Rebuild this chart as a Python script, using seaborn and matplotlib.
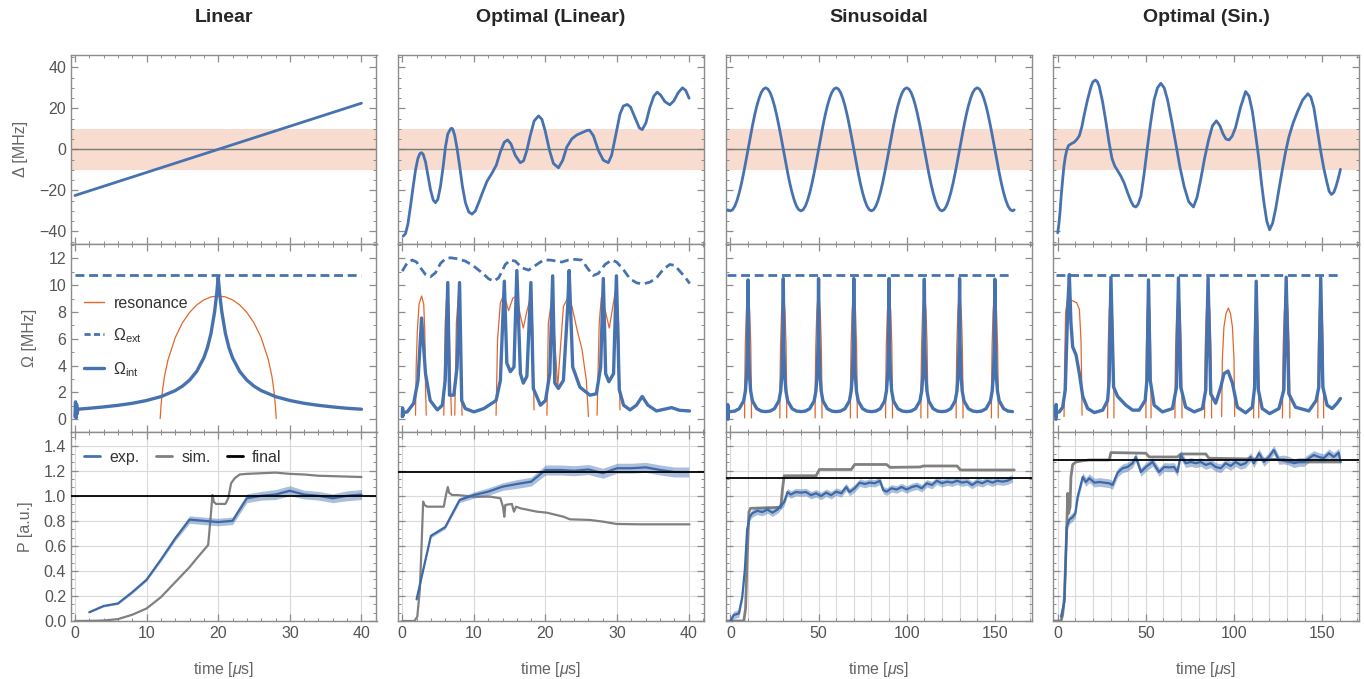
import numpy as np
import matplotlib
matplotlib.use('Agg')
import matplotlib.pyplot as plt
from matplotlib.ticker import MultipleLocator, FormatStrFormatter
from matplotlib.lines import Line2D
import seaborn as sns

sns.set_style('ticks')
plt.rcParams['font.family'] = ['Liberation Sans', 'DejaVu Sans']
plt.rcParams['mathtext.fontset'] = 'custom'
plt.rcParams['mathtext.rm'] = 'Liberation Sans'
plt.rcParams['mathtext.it'] = 'Liberation Sans:italic'
plt.rcParams['mathtext.bf'] = 'Liberation Sans:bold'

BLUE = '#4672b0'
ORANGE = '#e3672a'
BAND = '#f8dccf'
GRAY = '#808080'
FRAME = '#8c8c8c'

titles = ['Linear', 'Optimal (Linear)', 'Sinusoidal', 'Optimal (Sin.)']

# ---------------- Linear ----------------
lin_delta_t = [0, 40]
lin_delta = [-22.5, 22.5]
lin_ext_t = [0, 40]
lin_ext = [10.8, 10.8]
lin_int_t = [0, 0.08, 0.16, 0.24, 0.32, 0.4, 2, 4, 6, 8, 10, 12, 14, 15, 16, 17, 18, 18.5, 19, 19.5,
             19.8, 20, 20.2, 20.5, 21, 21.5, 22, 23, 24, 25, 26, 28, 30, 32, 34, 36, 38, 40]
lin_int = [0.2, 1.3, 0.1, 1.1, 0.4, 0.75, 0.82, 0.92, 1.04, 1.19, 1.40, 1.69, 2.14, 2.47, 2.92, 3.57, 4.59,
           5.35, 6.42, 8.03, 9.4, 10.6, 9.4, 8.03, 6.42, 5.35, 4.59, 3.57, 2.92, 2.47, 2.14, 1.69, 1.40,
           1.19, 1.04, 0.92, 0.82, 0.75]
lin_res = [([11.9, 12.0, 12.2, 12.5, 13, 14, 15, 16, 17, 18, 19, 20, 21, 22, 23, 24, 25, 26, 27, 27.5, 27.8, 28.0, 28.1],
            [0.05, 0.9, 2.05, 3.2, 4.45, 6.09, 7.19, 7.97, 8.53, 8.91, 9.13, 9.2, 9.13, 8.91, 8.53, 7.97, 7.19,
             6.09, 4.45, 3.2, 2.05, 0.9, 0.05])]
lin_exp_t = [2, 4, 6, 8, 10, 12, 14, 16, 18, 20, 22, 24, 26, 28, 30, 32, 34, 36, 38, 40]
lin_exp = [0.07, 0.12, 0.14, 0.23, 0.33, 0.49, 0.66, 0.81, 0.80, 0.79, 0.80, 0.98, 1.00, 1.01, 1.04, 1.01,
           1.00, 0.98, 1.00, 1.01]
lin_err = [0.005, 0.007, 0.008, 0.01, 0.012, 0.015, 0.02, 0.03, 0.03, 0.03, 0.03, 0.035, 0.035, 0.04, 0.04,
           0.035, 0.035, 0.035, 0.04, 0.04]
lin_sim_t = [0, 2, 4, 6, 8, 10, 12, 14, 15, 16, 17, 18, 18.6, 18.9, 19.2, 19.4, 19.7, 20.3, 21.0, 21.4, 21.8,
             22.3, 23, 24, 26, 28, 30, 32, 34, 37, 40]
lin_sim = [0, 0.001, 0.004, 0.015, 0.05, 0.1, 0.19, 0.31, 0.37, 0.43, 0.5, 0.567, 0.607, 0.8, 1.006, 0.95,
           0.935, 0.935, 0.935, 0.98, 1.1, 1.14, 1.17, 1.175, 1.18, 1.185, 1.175, 1.17, 1.16, 1.155, 1.15]
lin_final = 1.0

# ---------------- Optimal (Linear) ----------------
opl_delta_t = [0.14, 0.46, 0.79, 1.16, 1.53, 1.86, 2.18, 2.46, 2.69, 2.92, 3.25, 3.57, 3.94, 4.32, 4.64, 4.97,
               5.34, 5.71, 6.03, 6.36, 6.73, 6.89, 7.05, 7.33, 7.66, 8.03, 8.40, 8.82, 9.28, 9.74, 10.21, 10.67,
               11.28, 11.83, 12.53, 13.13, 13.69, 14.25, 14.71, 15.17, 15.78, 16.47, 16.94, 17.40, 17.87, 18.42,
               19.03, 19.49, 19.95, 20.56, 21.11, 21.81, 22.41, 22.97, 23.67, 24.36, 25.20, 25.7, 26.13, 26.68,
               27.38, 28.07, 28.77, 29.23, 29.84, 30.39, 30.86, 31.41, 31.88, 32.48, 33.09, 33.50, 34.01, 34.57,
               35.13, 35.60, 36.06, 36.66, 37.35, 37.91, 38.52, 39.12, 39.58, 40.05]
opl_delta = [-42.3, -41.1, -36.4, -27.6, -18.0, -10.0, -4.5, -2.1, -1.6, -2.4, -6.1, -12.4, -19.6, -24.7,
             -26.0, -24.4, -18.0, -8.5, 1.1, 7.5, 9.9, 10.3, 9.9, 6.7, 0.3, -8.5, -18.0, -26.0, -30.5, -31.6,
             -30.0, -26.0, -20.4, -15.6, -11.6, -7.7, -1.3, 3.5, 4.6, 2.7, -2.9, -6.5, -5.6, -0.5, 6.7, 13.9,
             16.3, 14.7, 9.1, -0.5, -6.9, -9.0, -5.3, 1.1, 5.1, 7.0, 8.3, 9.1, 9.4, 6.7, -0.5, -5.3, -6.5, -2.9,
             7.5, 17.1, 21.1, 21.9, 20.6, 15.6, 10.5, 9.6, 12.8, 20.4, 26.0, 27.9, 26.5, 23.3, 21.7, 23.6, 27.6,
             30.0, 28.7, 24.9]
opl_ext_t = [0.0, 0.70, 1.39, 2.0, 2.55, 3.25, 3.94, 4.64, 5.34, 6.03, 6.73, 7.66, 8.82, 9.98, 11.14, 12.06,
             12.76, 13.46, 14.39, 15.08, 15.78, 16.71, 17.63, 18.79, 19.72, 20.65, 21.58, 22.27, 23.2, 24.13,
             25.06, 25.99, 26.68, 27.38, 28.31, 29.23, 29.93, 30.86, 31.79, 32.71, 33.64, 34.57, 35.5, 36.43,
             37.35, 38.05, 38.75, 39.44, 40.14]
opl_ext = [11.05, 11.68, 11.88, 11.73, 11.3, 10.8, 10.63, 10.93, 11.63, 11.98, 12.05, 11.98, 11.8, 11.43,
           10.93, 10.48, 10.3, 10.55, 11.55, 11.88, 11.8, 11.3, 11.13, 11.55, 11.88, 11.88, 11.8, 11.73, 11.88,
           11.93, 11.88, 11.18, 10.73, 10.88, 11.55, 11.88, 11.73, 11.18, 10.48, 10.18, 10.1, 10.23, 10.55,
           11.18, 11.55, 11.48, 11.05, 10.63, 10.13]
opl_int_t = [0.0, 0.05, 0.1, 0.15, 0.7, 1.6, 2.2, 2.7, 3.25, 3.9, 4.9, 5.6, 6.0, 6.36, 6.6, 7.2, 7.66, 8.0,
             8.3, 8.8, 10.0, 11.4, 13.1, 13.7, 14.25, 14.6, 15.1, 15.6, 16.0, 16.5, 16.9, 17.4, 17.96, 18.3,
             19.3, 20.0, 20.6, 21.0, 21.3, 21.8, 22.5, 23.1, 23.3, 23.8, 24.8, 26.2, 27.1, 27.7, 28.07, 28.4,
             28.85, 29.5, 29.9, 30.3, 30.9, 31.8, 32.7, 33.5, 34.3, 35.5, 37.6, 38.7, 40.1]
opl_int = [0.2, 0.85, 0.25, 0.5, 0.55, 1.2, 2.9, 7.55, 3.4, 1.4, 0.7, 1.05, 2.9, 10.2, 1.8, 1.8, 3.9, 10.2,
           1.4, 0.8, 0.55, 0.8, 1.4, 2.9, 10.3, 4.2, 3.55, 3.9, 11.1, 3.4, 2.7, 3.2, 10.2, 2.3, 1.05, 1.4, 3.4,
           10.7, 2.7, 2.3, 2.9, 8.4, 11.1, 3.9, 2.4, 1.8, 1.9, 3.9, 10.5, 3.4, 2.8, 3.4, 10.7, 2.2, 1.05, 0.7,
           1.05, 1.7, 1.05, 0.62, 0.87, 0.67, 0.62]
opl_res = [
    ([1.85, 1.95, 2.1, 2.35, 2.7, 3.0, 3.15, 3.25, 3.35], [0.3, 4.0, 6.5, 8.6, 9.2, 8.6, 6.5, 2.5, 0.3]),
    ([5.8, 6.0, 6.26, 6.5, 6.7, 6.87], [0.3, 7.2, 9.7, 8.4, 3.4, 0.3]),
    ([7.33, 7.56, 7.9, 8.1, 8.35], [0.3, 7.2, 9.7, 7.2, 0.3]),
    ([13.1, 13.3, 13.7, 14.2, 14.85, 15.45, 16.0, 16.5, 16.9, 17.4, 17.9, 18.2, 18.4],
     [0.3, 5.9, 8.7, 9.3, 8.1, 9.05, 9.2, 7.7, 6.8, 8.05, 9.1, 6.9, 0.7]),
    ([20.2, 20.4, 20.9, 21.3, 21.7, 22.0, 22.5, 23.1, 23.7, 24.4, 25.1, 25.7, 26.0],
     [0.3, 7.2, 9.05, 5.9, 2.4, 4.7, 8.4, 9.05, 8.4, 6.7, 5.2, 2.9, 0.2]),
    ([27.2, 27.5, 27.8, 28.3, 28.9, 29.4, 29.8, 30.2, 30.4], [0.3, 7.2, 9.1, 8.2, 6.8, 8.4, 9.7, 7.2, 0.7]),
]
opl_exp_t = [2, 4, 6, 8, 10, 12, 14, 16, 18, 20, 22, 24, 26, 28, 30, 32, 34, 36, 38, 40]
opl_exp = [0.173, 0.68, 0.75, 0.966, 1.006, 1.033, 1.073, 1.094, 1.113, 1.206, 1.206, 1.20, 1.21, 1.18, 1.22,
           1.22, 1.227, 1.206, 1.19, 1.19]
opl_err = [0.01, 0.015, 0.015, 0.02, 0.025, 0.03, 0.03, 0.035, 0.035, 0.04, 0.04, 0.04, 0.04, 0.04, 0.04,
           0.04, 0.04, 0.04, 0.04, 0.04]
opl_sim_t = [0, 1.7, 2.1, 2.46, 2.69, 2.92, 3.1, 3.48, 5.8, 6.08, 6.36, 6.54, 6.96, 7.66, 10.0, 12.3, 13.7,
             14.06, 14.25, 14.39, 15.3, 15.6, 15.9, 16.5, 18.8, 20.2, 22.5, 23.4, 26.2, 28.1, 29.9, 33.2, 40.1]
opl_sim = [0, 0, 0.035, 0.25, 0.59, 0.953, 0.927, 0.913, 0.913, 1.0, 1.07, 1.025, 1.006, 1.006, 0.993, 0.993,
           0.98, 0.913, 0.833, 0.927, 0.935, 0.873, 0.913, 0.90, 0.873, 0.865, 0.833, 0.812, 0.807, 0.793,
           0.775, 0.772, 0.772]
opl_final = 1.193

# ---------------- Sinusoidal ----------------
sin_delta_t = [-1.5,
               0, 1.25, 2.5, 3.75, 5, 6.25, 7.5, 8.75, 10, 11.25, 12.5, 13.75, 15, 16.25, 17.5, 18.75,
               20, 21.25, 22.5, 23.75, 25, 26.25, 27.5, 28.75, 30, 31.25, 32.5, 33.75, 35, 36.25, 37.5, 38.75,
               40, 41.25, 42.5, 43.75, 45, 46.25, 47.5, 48.75, 50, 51.25, 52.5, 53.75, 55, 56.25, 57.5, 58.75,
               60, 61.25, 62.5, 63.75, 65, 66.25, 67.5, 68.75, 70, 71.25, 72.5, 73.75, 75, 76.25, 77.5, 78.75,
               80, 81.25, 82.5, 83.75, 85, 86.25, 87.5, 88.75, 90, 91.25, 92.5, 93.75, 95, 96.25, 97.5, 98.75,
               100, 101.25, 102.5, 103.75, 105, 106.25, 107.5, 108.75, 110, 111.25, 112.5, 113.75, 115, 116.25,
               117.5, 118.75, 120, 121.25, 122.5, 123.75, 125, 126.25, 127.5, 128.75, 130, 131.25, 132.5,
               133.75, 135, 136.25, 137.5, 138.75, 140, 141.25, 142.5, 143.75, 145, 146.25, 147.5, 148.75,
               150, 151.25, 152.5, 153.75, 155, 156.25, 157.5, 158.75, 160, 161]
sin_delta = [-29.5,
             -30, -29.4, -27.7, -24.9, -21.2, -16.7, -11.5, -5.9, 0, 5.9, 11.5, 16.7, 21.2, 24.9, 27.7, 29.4,
             30, 29.4, 27.7, 24.9, 21.2, 16.7, 11.5, 5.9, 0, -5.9, -11.5, -16.7, -21.2, -24.9, -27.7, -29.4,
             -30, -29.4, -27.7, -24.9, -21.2, -16.7, -11.5, -5.9, 0, 5.9, 11.5, 16.7, 21.2, 24.9, 27.7, 29.4,
             30, 29.4, 27.7, 24.9, 21.2, 16.7, 11.5, 5.9, 0, -5.9, -11.5, -16.7, -21.2, -24.9, -27.7, -29.4,
             -30, -29.4, -27.7, -24.9, -21.2, -16.7, -11.5, -5.9, 0, 5.9, 11.5, 16.7, 21.2, 24.9, 27.7, 29.4,
             30, 29.4, 27.7, 24.9, 21.2, 16.7, 11.5, 5.9, 0, -5.9, -11.5, -16.7, -21.2, -24.9, -27.7, -29.4,
             -30, -29.4, -27.7, -24.9, -21.2, -16.7, -11.5, -5.9, 0, 5.9, 11.5, 16.7, 21.2, 24.9, 27.7, 29.4,
             30, 29.4, 27.7, 24.9, 21.2, 16.7, 11.5, 5.9, 0, -5.9, -11.5, -16.7, -21.2, -24.9, -27.7, -29.4,
             -30, -29.5]
sin_ext_t = [-1.9, 160]
sin_ext = [10.8, 10.8]
sin_int_t = [-1.5, -1.4, -1.3, -1.2, -1.0, 0, 2.5, 5, 7.5, 8.5, 9.2, 9.65, 10,
             10.35, 10.8, 11.5, 12.5, 15, 17.5, 20, 22.5, 25, 27.5, 28.5, 29.2, 29.65, 30,
             30.35, 30.8, 31.5, 32.5, 35, 37.5, 40, 42.5, 45, 47.5, 48.5, 49.2, 49.65, 50,
             50.35, 50.8, 51.5, 52.5, 55, 57.5, 60, 62.5, 65, 67.5, 68.5, 69.2, 69.65, 70,
             70.35, 70.8, 71.5, 72.5, 75, 77.5, 80, 82.5, 85, 87.5, 88.5, 89.2, 89.65, 90,
             90.35, 90.8, 91.5, 92.5, 95, 97.5, 100, 102.5, 105, 107.5, 108.5, 109.2, 109.65, 110,
             110.35, 110.8, 111.5, 112.5, 115, 117.5, 120, 122.5, 125, 127.5, 128.5, 129.2, 129.65, 130,
             130.35, 130.8, 131.5, 132.5, 135, 137.5, 140, 142.5, 145, 147.5, 148.5, 149.2, 149.65, 150,
             150.35, 150.8, 151.5, 152.5, 155, 157.5, 160]
sin_int = [1.1, 0.0, 1.0, 0.4, 0.6, 0.57, 0.61, 0.79, 1.37, 2.1, 3.3, 5.4, 10.4,
           5.4, 3.3, 2.1, 1.37, 0.79, 0.61, 0.57, 0.61, 0.79, 1.37, 2.1, 3.3, 5.4, 10.5,
           5.4, 3.3, 2.1, 1.37, 0.79, 0.61, 0.57, 0.61, 0.79, 1.37, 2.1, 3.3, 5.4, 10.5,
           5.4, 3.3, 2.1, 1.37, 0.79, 0.61, 0.57, 0.61, 0.79, 1.37, 2.1, 3.3, 5.4, 10.5,
           5.4, 3.3, 2.1, 1.37, 0.79, 0.61, 0.57, 0.61, 0.79, 1.37, 2.1, 3.3, 5.4, 10.5,
           5.4, 3.3, 2.1, 1.37, 0.79, 0.61, 0.57, 0.61, 0.79, 1.37, 2.1, 3.3, 5.4, 10.45,
           5.4, 3.3, 2.1, 1.37, 0.79, 0.61, 0.57, 0.61, 0.79, 1.37, 2.1, 3.3, 5.4, 10.5,
           5.4, 3.3, 2.1, 1.37, 0.79, 0.61, 0.57, 0.61, 0.79, 1.37, 2.1, 3.3, 5.4, 10.45,
           5.4, 3.3, 2.1, 1.37, 0.79, 0.61, 0.57]
res_level = [0.1, 2.2, 5.5, 8.0, 8.9, 9.2, 8.9, 8.0, 5.5, 2.2, 0.1]
sin_res = [
    ([8.05, 8.1, 8.44, 9.02, 9.51, 10, 10.49, 10.98, 11.56, 11.9, 11.95], res_level),
    ([28.05, 28.1, 28.44, 29.02, 29.51, 30, 30.49, 30.98, 31.56, 31.9, 31.95], res_level),
    ([48.05, 48.1, 48.44, 49.02, 49.51, 50, 50.49, 50.98, 51.56, 51.9, 51.95], res_level),
    ([68.05, 68.1, 68.44, 69.02, 69.51, 70, 70.49, 70.98, 71.56, 71.9, 71.95], res_level),
    ([88.05, 88.1, 88.44, 89.02, 89.51, 90, 90.49, 90.98, 91.56, 91.9, 91.95], res_level),
    ([108.05, 108.1, 108.44, 109.02, 109.51, 110, 110.49, 110.98, 111.56, 111.9, 111.95], res_level),
    ([128.05, 128.1, 128.44, 129.02, 129.51, 130, 130.49, 130.98, 131.56, 131.9, 131.95], res_level),
    ([148.05, 148.1, 148.44, 149.02, 149.51, 150, 150.49, 150.98, 151.56, 151.9, 151.95], res_level),
]
sin_exp_t = [0, 1.9, 4.8, 6.7, 8.2, 9.5, 10.9, 12.4, 15.2, 18.1, 21.0, 23.8, 26.7, 28.6, 30.5, 32.4, 34.3,
             37.1, 40.0, 42.9, 45.7, 48.6, 51.4, 54.3, 57.1, 60.0, 62.9, 65.7, 67.6, 70.5, 73.3, 76.2, 79.0,
             81.9, 84.8, 86.7, 88.6, 91.4, 94.3, 97.1, 100.0, 102.9, 105.7, 108.6, 111.4, 114.3, 117.1,
             120.0, 122.9, 125.7, 128.6, 131.4, 134.3, 137.1, 140.0, 142.9, 145.7, 148.6, 151.4, 154.3,
             157.1, 160.0]
sin_exp = [0.0, 0.048, 0.06, 0.19, 0.41, 0.73, 0.83, 0.86, 0.88, 0.87, 0.89, 0.865, 0.89, 0.92, 0.95, 1.03,
           1.01, 1.03, 1.025, 1.03, 1.005, 1.02, 0.998, 1.025, 1.005, 1.033, 1.02, 1.07, 1.03, 1.06, 1.105,
           1.094, 1.105, 1.10, 1.12, 1.046, 1.033, 1.06, 1.05, 1.07, 1.05, 1.07, 1.08, 1.06, 1.10, 1.086,
           1.12, 1.10, 1.113, 1.105, 1.12, 1.105, 1.113, 1.086, 1.113, 1.10, 1.12, 1.105, 1.12, 1.113, 1.12,
           1.14]
sin_err = 0.03
sin_sim_t = [-1.9, 7.6, 8.6, 9.5, 10.5, 11.4, 28.6, 29.5, 30.5, 48.6, 50.5, 68.6, 70.5, 88.6, 90.5, 107.6,
             109.5, 128.6, 130.5, 161]
sin_sim = [0, 0, 0.1, 0.5, 0.87, 0.9, 0.908, 1.05, 1.16, 1.16, 1.21, 1.21, 1.25, 1.25, 1.227, 1.23, 1.238,
           1.238, 1.206, 1.206]
sin_final = 1.14

# ---------------- Optimal (Sin.) ----------------
ops_delta_t = [0, 0.6, 1.3, 2.0, 2.8, 3.5, 4.3, 5.2, 6.2, 7.8, 9.4, 11.0, 12.3, 13.7, 15.1, 17.0, 18.9, 19.9,
               21.3, 22.5, 23.6, 25.5, 27.4, 29.1, 30.8, 32.4, 34.0, 35.8, 37.7, 39.6, 41.5, 43.0, 44.3, 45.6,
               47.2, 49.0, 50.9, 52.8, 54.7, 56.6, 58.5, 60.4, 62.3, 64.6, 67.0, 69.3, 71.7, 74.3, 77.0, 79.0,
               81.1, 83.3, 85.5, 87.8, 90.0, 92.0, 93.8, 95.5, 97.2, 99.0, 100.9, 103.7, 106.6, 108.5, 110.4,
               112.3, 114.2, 115.6, 117.0, 118.6, 120.2, 121.9, 123.6, 125.5, 127.4, 129.2, 131.1, 133.4,
               135.8, 138.9, 141.9, 143.6, 145.3, 147.2, 149.1, 151.0, 152.8, 154.0, 155.3, 156.6, 157.9,
               159.2, 160.4]
ops_delta = [-40.7, -37.0, -30.8, -22.5, -14.8, -8.5, -3.7, -0.2, 1.9, 2.8, 3.5, 5.0, 6.7, 11.0, 17.1, 24.5,
             30.6, 32.8, 33.8, 33.0, 30.6, 23.0, 13.1, 3.5, -4.5, -8.2, -10.4, -13.0, -16.4, -21.0, -25.2,
             -27.6, -28.1, -26.8, -22.8, -12.0, 1.1, 13.5, 24.2, 30.0, 32.2, 30.0, 24.2, 14.0, 2.7, -8.5, -18.0,
             -25.5, -28.1, -23.5, -14.8, -4.5, 4.3, 11.5, 13.9, 11.5, 7.5, 5.0, 4.6, 6.5, 10.7, 20.5, 28.2,
             26.0, 18.7, 7.0, -5.3, -16.5, -26.0, -35.0, -39.2, -36.0, -29.2, -19.5, -10.0, -1.5, 5.9, 12.5,
             17.9, 24.0, 27.1, 25.5, 20.3, 10.0, -0.5, -9.5, -16.4, -20.5, -22.0, -21.0, -18.0, -14.0, -9.7]
ops_ext_t = [-1.0, 159.4]
ops_ext = [10.8, 10.8]
ops_int_t = [-1.0, -0.9, -0.8, -0.7, 0.9, 2.8, 4.3, 5.7, 6.6, 7.5, 8.5, 10.4, 12.3, 14.2, 17.0, 20.8, 25.5,
             28.3, 29.2, 30.2, 31.7, 34.0, 38.7, 42.5, 46.2, 49.6, 50.6, 51.5, 52.5, 54.7, 59.4, 65.1, 67.4,
             68.5, 69.8, 72.6, 77.4, 82.1, 84.0, 85.3, 86.8, 89.6, 92.5, 94.3, 96.6, 99.1, 101.9, 106.6,
             110.4, 111.7, 112.6, 113.8, 116.0, 120.2, 125.5, 128.3, 129.6, 131.1, 134.9, 142.5, 146.6,
             148.1, 149.2, 150.4, 152.8, 155.7, 158.5, 160.4]
ops_int = [0.0, 1.1, 0.2, 0.5, 0.55, 0.9, 2.2, 8.4, 10.8, 7.2, 5.4, 4.8, 3.4, 1.7, 0.8, 0.5, 0.68, 1.4, 2.9,
           10.6, 2.4, 1.7, 1.05, 0.68, 0.68, 1.4, 2.9, 10.4, 2.9, 1.05, 0.55, 0.8, 2.4, 10.55, 2.4, 0.9, 0.55,
           0.8, 2.2, 10.55, 1.9, 1.2, 2.4, 3.4, 3.6, 2.7, 0.9, 0.48, 0.9, 2.4, 10.3, 2.2, 0.8, 0.42, 0.8,
           2.2, 10.6, 1.9, 0.9, 0.62, 1.4, 2.4, 10.55, 2.4, 1.05, 0.8, 1.2, 1.55]
ops_res = [
    ([3.6, 3.9, 4.5, 5.7, 7.5, 10.7, 12.3, 13.2, 13.7, 13.8], [0.2, 4.0, 8.0, 9.05, 8.9, 8.7, 8.2, 5.9, 2.0, 0.3]),
    ([28.3, 28.35, 28.66, 29.2, 29.65, 30.1, 30.55, 31.0, 31.54, 31.85, 31.9], res_level),
    ([50.05, 50.1, 50.35, 50.78, 51.14, 51.5, 51.86, 52.22, 52.66, 52.9, 52.95], res_level),
    ([66.5, 66.56, 66.9, 67.5, 68.0, 68.5, 69.0, 69.5, 70.1, 70.44, 70.5], res_level),
    ([83.3, 83.36, 83.7, 84.3, 84.8, 85.3, 85.8, 86.3, 86.9, 87.24, 87.3], res_level),
    ([93.0, 93.4, 94.3, 95.5, 96.8, 98.0, 99.1, 100.0, 100.4], [0.2, 4.5, 6.9, 7.9, 8.3, 7.9, 6.9, 4.5, 0.2]),
    ([111.15, 111.2, 111.44, 111.88, 112.24, 112.6, 112.96, 113.32, 113.76, 114.0, 114.05], res_level),
    ([127.5, 127.56, 127.92, 128.55, 129.08, 129.6, 130.12, 130.65, 131.28, 131.64, 131.7], res_level),
    ([147.55, 147.6, 147.88, 148.38, 148.79, 149.2, 149.61, 150.03, 150.52, 150.8, 150.85], res_level),
]
ops_exp_t = [1.9, 3.8, 5.1, 6.6, 8.5, 10.0, 11.3, 14.2, 16.0, 17.9, 20.8, 23.6, 26.4, 29.2, 31.1, 34.0, 36.8,
             39.6, 42.5, 44.3, 47.2, 50.0, 53.8, 57.5, 60.4, 63.2, 66.0, 67.9, 69.8, 72.6, 75.5, 78.3, 81.1,
             84.0, 86.8, 89.6, 92.5, 95.3, 98.1, 100.9, 103.8, 106.6, 109.4, 111.3, 114.2, 117.0, 119.8,
             122.6, 125.5, 128.3, 131.1, 134.0, 136.8, 139.6, 142.5, 145.3, 148.1, 150.9, 153.8, 156.6,
             159.4, 160.4]
ops_exp = [0.035, 0.154, 0.75, 0.81, 0.83, 0.86, 0.99, 1.15, 1.11, 1.14, 1.105, 1.11, 1.105, 1.10, 1.086,
           1.185, 1.22, 1.23, 1.26, 1.31, 1.19, 1.23, 1.27, 1.19, 1.23, 1.227, 1.23, 1.19, 1.326, 1.26, 1.27,
           1.26, 1.27, 1.246, 1.26, 1.23, 1.22, 1.26, 1.238, 1.27, 1.246, 1.26, 1.31, 1.26, 1.34, 1.27, 1.31,
           1.366, 1.286, 1.29, 1.28, 1.26, 1.27, 1.27, 1.30, 1.326, 1.31, 1.30, 1.34, 1.31, 1.345, 1.27]
ops_err = 0.035
ops_sim_t = [-1.9, 1.9, 2.8, 3.8, 5.1, 5.7, 6.2, 7.0, 7.5, 8.5, 10.4, 14.2, 17.9, 29.2, 30.2, 50.0, 51.9,
             67.9, 69.8, 84.0, 85.8, 125.5, 131.1, 160.4]
ops_sim = [0, 0, 0.05, 0.19, 0.73, 1.02, 0.86, 0.91, 1.15, 1.25, 1.27, 1.28, 1.286, 1.286, 1.345, 1.34,
           1.31, 1.31, 1.334, 1.334, 1.30, 1.29, 1.27, 1.27]
ops_final = 1.286

panels = [
    dict(d=(lin_delta_t, lin_delta), res=lin_res, ext=(lin_ext_t, lin_ext), int=(lin_int_t, lin_int),
         exp=(lin_exp_t, lin_exp, lin_err), sim=(lin_sim_t, lin_sim), final=lin_final, long=False, simlw=1.6),
    dict(d=(opl_delta_t, opl_delta), res=opl_res, ext=(opl_ext_t, opl_ext), int=(opl_int_t, opl_int),
         exp=(opl_exp_t, opl_exp, opl_err), sim=(opl_sim_t, opl_sim), final=opl_final, long=False, simlw=1.6),
    dict(d=(sin_delta_t, sin_delta), res=sin_res, ext=(sin_ext_t, sin_ext), int=(sin_int_t, sin_int),
         exp=(sin_exp_t, sin_exp, sin_err), sim=(sin_sim_t, sin_sim), final=sin_final, long=True, simlw=2.0),
    dict(d=(ops_delta_t, ops_delta), res=ops_res, ext=(ops_ext_t, ops_ext), int=(ops_int_t, ops_int),
         exp=(ops_exp_t, ops_exp, ops_err), sim=(ops_sim_t, ops_sim), final=ops_final, long=True, simlw=2.0),
]

W, H = 1364, 679
COL_L = [71, 398.3, 726, 1053.3]
CW = 305.5
ROW_T = [55, 243.7, 432.3]
RH = 188.7

fig = plt.figure(figsize=(W / 100, H / 100), dpi=100)


def line(ax, x, y, **kw):
    sns.lineplot(x=x, y=y, ax=ax, estimator=None, sort=False, legend=False, **kw)
    return ax.lines[-1]


def frame(ax, xmaj, xmin, ymaj, ymin):
    for s in ax.spines.values():
        s.set_color(FRAME)
        s.set_linewidth(1.0)
    ax.xaxis.set_major_locator(MultipleLocator(xmaj))
    ax.xaxis.set_minor_locator(MultipleLocator(xmin))
    ax.yaxis.set_major_locator(MultipleLocator(ymaj))
    ax.yaxis.set_minor_locator(MultipleLocator(ymin))
    ax.tick_params(which='both', direction='in', top=True, right=True, color=FRAME,
                   labelcolor='#555555', labelsize=11.5)
    ax.tick_params(which='major', length=5, width=0.9)
    ax.tick_params(which='minor', length=2.5, width=0.7)


for c, p in enumerate(panels):
    axs = [fig.add_axes([COL_L[c] / W, (H - t - RH) / H, CW / W, RH / H]) for t in ROW_T]
    xlim = (-2.5, 170.8) if p['long'] else (-0.55, 42.1)
    xmaj, xmin = (50, 10) if p['long'] else (10, 2)

    # Detuning row
    ax = axs[0]
    ax.axhspan(-10, 10, color=BAND, lw=0, zorder=0)
    ax.axhline(0, color='#7a7a7a', lw=1.0, zorder=1)
    line(ax, p['d'][0], p['d'][1], color=BLUE, lw=2.0, zorder=3)
    ax.set_ylim(-46, 46)
    frame(ax, xmaj, xmin, 20, 5)
    ax.set_title(titles[c], fontsize=14, fontweight='bold', pad=24)

    # Rabi frequency row
    ax = axs[1]
    for st, sv in p['res']:
        line(ax, st, sv, color=ORANGE, lw=0.9, zorder=2)
    ln = line(ax, p['ext'][0], p['ext'][1], color=BLUE, lw=2.0, zorder=3)
    ln.set_linestyle((0, (3.2, 1.7)))
    line(ax, p['int'][0], p['int'][1], color=BLUE, lw=2.4, zorder=4)
    ax.set_ylim(-0.98, 13.1)
    frame(ax, xmaj, xmin, 2, 1)

    # Population row
    ax = axs[2]
    et, ev, ee = p['exp']
    ev = np.array(ev)
    ee = np.array(ee) if np.ndim(ee) else np.full(len(ev), ee)
    line(ax, p['sim'][0], p['sim'][1], color=GRAY, lw=p['simlw'], zorder=3)
    ax.fill_between(et, ev - ee, ev + ee, color=BLUE, alpha=0.45, lw=0, zorder=4)
    line(ax, et, ev, color='#3d69a8', lw=1.6, zorder=5)
    ax.axhline(p['final'], color='black', lw=1.3, zorder=6)
    ax.set_ylim(0, 1.507)
    frame(ax, xmaj, xmin, 0.2, 0.2 / 3)
    ax.yaxis.set_major_formatter(FormatStrFormatter('%.1f'))
    ax.grid(True, which='major', axis='y', color='#dadada', lw=0.8, zorder=0)
    ax.grid(True, which='both' if p['long'] else 'major', axis='x', color='#dadada', lw=0.8, zorder=0)
    ax.set_axisbelow(True)
    ax.set_xlabel('time [$\\mu$s]', fontsize=11.5, color='#666666', labelpad=14)

    for ax in axs:
        ax.set_xlim(*xlim)
        if c > 0:
            ax.tick_params(labelleft=False)
    for ax in axs[:2]:
        ax.tick_params(labelbottom=False)

    if c == 0:
        axs[0].set_ylabel('Δ [MHz]', fontsize=11.5, color='#666666', labelpad=8)
        axs[1].set_ylabel('Ω [MHz]', fontsize=11.5, color='#666666', labelpad=8)
        axs[2].set_ylabel('P [a.u.]', fontsize=11.5, color='#666666', labelpad=8)
        h1 = [Line2D([], [], color=ORANGE, lw=1.0),
              Line2D([], [], color=BLUE, lw=2.0, ls=(0, (2.2, 1.2))),
              Line2D([], [], color=BLUE, lw=2.4)]
        axs[1].legend(h1, ['resonance', '$\\mathregular{\\Omega_{ext}}$', '$\\mathregular{\\Omega_{int}}$'],
                      loc='upper left', bbox_to_anchor=(-0.005, 0.8), frameon=False, fontsize=11.5,
                      handlelength=1.25, labelspacing=0.95, handletextpad=0.6, labelcolor='#333333')
        h2 = [Line2D([], [], color=BLUE, lw=2.0), Line2D([], [], color=GRAY, lw=2.0),
              Line2D([], [], color='black', lw=2.0)]
        axs[2].legend(h2, ['exp.', 'sim.', 'final'], loc='upper left', bbox_to_anchor=(-0.005, 0.985),
                      ncol=3, frameon=False, fontsize=11.5, handlelength=1.0, columnspacing=1.0,
                      handletextpad=0.6, labelcolor='#333333')

fig.savefig('out.png', dpi=100)
